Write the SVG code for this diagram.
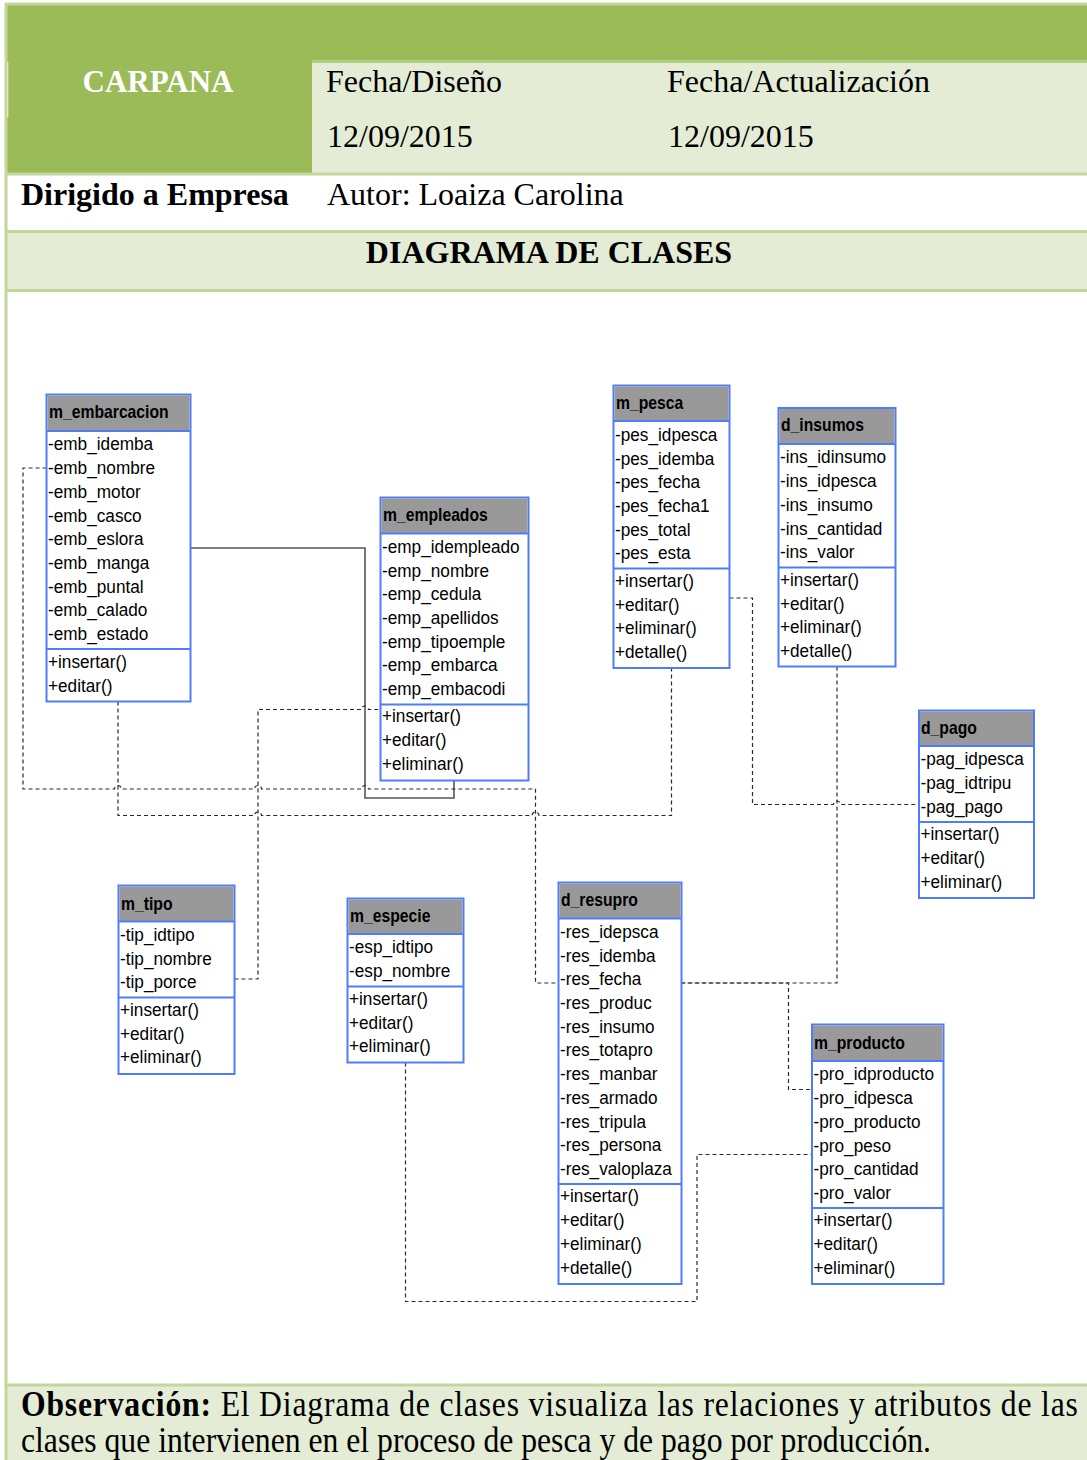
<svg xmlns="http://www.w3.org/2000/svg" width="1087" height="1460" viewBox="0 0 1087 1460">
  <style>
    .serif { font-family: "Liberation Serif", "Times New Roman", serif; fill: #000; }
    .hd { font-size: 32px; }
    .bold { font-weight: bold; }
    .box { fill: #fff; stroke: #4f7cff; stroke-width: 2; }
    .hdr { fill: #999999; }
    .div { stroke: #4f7cff; stroke-width: 2; }
    .cls { font-family: "Liberation Sans", Arial, sans-serif; font-size: 18.5px; fill: #000; }
    .ttl { font-family: "Liberation Sans", Arial, sans-serif; font-size: 18.5px; font-weight: bold; fill: #000; }
    .dash { fill: none; stroke: #2a2a2a; stroke-width: 1.2; stroke-dasharray: 4 3; }
    .solid { fill: none; stroke: #555; stroke-width: 1.6; }
  </style>

  <!-- page / table frame -->
  <rect x="0" y="0" width="1087" height="1460" fill="#fff"/>
  <rect x="7" y="5" width="1080" height="57" fill="#9bbb59"/>
  <rect x="7" y="5" width="305" height="168" fill="#9bbb59"/>
  <rect x="312" y="62" width="775" height="111" fill="#e4ecd5"/>
  <line x1="312" y1="61.5" x2="1087" y2="61.5" stroke="#b2cc80" stroke-width="3"/>
  <line x1="7.5" y1="62" x2="7.5" y2="117" stroke="#fff" stroke-width="1.5"/>
  <rect x="7" y="233" width="1080" height="57" fill="#e4ecd5"/>
  <rect x="7" y="1386" width="1080" height="74" fill="#e4ecd5"/>
  <g stroke="#c3d69b" stroke-width="3">
    <line x1="5" y1="4" x2="1087" y2="4"/>
    <line x1="6" y1="3" x2="6" y2="1460"/>
    <line x1="7" y1="174" x2="1087" y2="174"/>
    <line x1="7" y1="231.5" x2="1087" y2="231.5"/>
    <line x1="7" y1="290.5" x2="1087" y2="290.5"/>
    <line x1="7" y1="1385" x2="1087" y2="1385"/>
  </g>

  <!-- header texts -->
  <text class="serif bold" x="158" y="92" font-size="31" text-anchor="middle" fill="#fff" style="fill:#fff">CARPANA</text>
  <text class="serif hd" x="326" y="92">Fecha/Diseño</text>
  <text class="serif hd" x="667" y="92">Fecha/Actualización</text>
  <text class="serif hd" x="327" y="147">12/09/2015</text>
  <text class="serif hd" x="668" y="147">12/09/2015</text>
  <text class="serif hd bold" x="21" y="205">Dirigido a Empresa</text>
  <text class="serif hd" x="327" y="205">Autor: Loaiza Carolina</text>
  <text class="serif hd bold" x="549" y="263" text-anchor="middle">DIAGRAMA DE CLASES</text>

  <!-- observation -->
  <text class="serif" font-size="36" transform="translate(21 1416) scale(0.88 1)" textLength="1201" lengthAdjust="spacing"><tspan font-weight="bold">Observación:</tspan> El Diagrama de clases visualiza las relaciones y atributos de las</text>
  <text class="serif" font-size="36" transform="translate(21 1452) scale(0.88 1)">clases que intervienen en el proceso de pesca y de pago por producción.</text>

  <!-- connectors -->
  <g id="connectors">
    <polyline class="solid" points="190.5,548 365,548 365,798 454,798 454,781"/>
    <path class="dash" d="M46.5,468 H23 V789 H114.5 a3.5,3.5 0 0 1 7,0 H254.5 a3.5,3.5 0 0 1 7,0 H361.5 a3.5,3.5 0 0 1 7,0 H535.5 V983 H558.5"/>
    <path class="dash" d="M118,701.5 V815.5 H254.5 a3.5,3.5 0 0 1 7,0 H532 a3.5,3.5 0 0 1 7,0 H671.5 V668"/>
    <path class="dash" d="M234.5,979 H258 V709.5 H361.5 a3.5,3.5 0 0 1 7,0 H380.5"/>
    <path class="dash" d="M729.5,598 H752.5 V804.5 H833.5 a3.5,3.5 0 0 1 7,0 H919"/>
    <path class="dash" d="M837,666.5 V983 H681.5"/>
    <path class="dash" d="M681.5,983 H788.5 V1089.5 H812"/>
    <path class="dash" d="M405.5,1062.5 V1301.5 H697 V1154.5 H812"/>
  </g>

  <!-- m_embarcacion -->
  <g id="m_embarcacion">
    <rect class="box" x="46.5" y="394.5" width="144" height="307"/>
    <rect class="hdr" x="47.5" y="395.5" width="142" height="35.5"/>
    <line class="div" x1="46.5" y1="431" x2="190.5" y2="431"/>
    <line class="div" x1="46.5" y1="649" x2="190.5" y2="649"/>
    <text class="ttl" transform="translate(49 418) scale(0.85 1)">m_embarcacion</text>
    <g class="cls" transform="translate(48 0) scale(0.93 1)">
      <text y="450.5">-emb_idemba</text>
      <text y="474.2">-emb_nombre</text>
      <text y="497.9">-emb_motor</text>
      <text y="521.6">-emb_casco</text>
      <text y="545.3">-emb_eslora</text>
      <text y="569">-emb_manga</text>
      <text y="592.7">-emb_puntal</text>
      <text y="616.4">-emb_calado</text>
      <text y="640.1">-emb_estado</text>
      <text y="668">+insertar()</text>
      <text y="691.7">+editar()</text>
    </g>
  </g>

  <!-- m_empleados -->
  <g id="m_empleados">
    <rect class="box" x="380.5" y="497.5" width="148" height="283"/>
    <rect class="hdr" x="381.5" y="498.5" width="146" height="35"/>
    <line class="div" x1="380.5" y1="533.5" x2="528.5" y2="533.5"/>
    <line class="div" x1="380.5" y1="704.5" x2="528.5" y2="704.5"/>
    <text class="ttl" transform="translate(383 521) scale(0.85 1)">m_empleados</text>
    <g class="cls" transform="translate(382 0) scale(0.93 1)">
      <text y="553">-emp_idempleado</text>
      <text y="576.7">-emp_nombre</text>
      <text y="600.4">-emp_cedula</text>
      <text y="624.1">-emp_apellidos</text>
      <text y="647.8">-emp_tipoemple</text>
      <text y="671.5">-emp_embarca</text>
      <text y="695.2">-emp_embacodi</text>
      <text y="722.5">+insertar()</text>
      <text y="746.2">+editar()</text>
      <text y="769.9">+eliminar()</text>
    </g>
  </g>

  <!-- m_pesca -->
  <g id="m_pesca">
    <rect class="box" x="613.5" y="385.5" width="116" height="282.5"/>
    <rect class="hdr" x="614.5" y="386.5" width="114" height="34.5"/>
    <line class="div" x1="613.5" y1="421" x2="729.5" y2="421"/>
    <line class="div" x1="613.5" y1="568.5" x2="729.5" y2="568.5"/>
    <text class="ttl" transform="translate(616 409) scale(0.85 1)">m_pesca</text>
    <g class="cls" transform="translate(615 0) scale(0.93 1)">
      <text y="441">-pes_idpesca</text>
      <text y="464.7">-pes_idemba</text>
      <text y="488.4">-pes_fecha</text>
      <text y="512.1">-pes_fecha1</text>
      <text y="535.8">-pes_total</text>
      <text y="559.5">-pes_esta</text>
      <text y="587">+insertar()</text>
      <text y="610.7">+editar()</text>
      <text y="634.4">+eliminar()</text>
      <text y="658.1">+detalle()</text>
    </g>
  </g>

  <!-- d_insumos -->
  <g id="d_insumos">
    <rect class="box" x="778.5" y="408" width="117" height="258.5"/>
    <rect class="hdr" x="779.5" y="409" width="115" height="35"/>
    <line class="div" x1="778.5" y1="444" x2="895.5" y2="444"/>
    <line class="div" x1="778.5" y1="567.5" x2="895.5" y2="567.5"/>
    <text class="ttl" transform="translate(781 431) scale(0.85 1)">d_insumos</text>
    <g class="cls" transform="translate(780 0) scale(0.93 1)">
      <text y="463.5">-ins_idinsumo</text>
      <text y="487.2">-ins_idpesca</text>
      <text y="510.9">-ins_insumo</text>
      <text y="534.6">-ins_cantidad</text>
      <text y="558.3">-ins_valor</text>
      <text y="586">+insertar()</text>
      <text y="609.7">+editar()</text>
      <text y="633.4">+eliminar()</text>
      <text y="657.1">+detalle()</text>
    </g>
  </g>

  <!-- d_pago -->
  <g id="d_pago">
    <rect class="box" x="919" y="710.5" width="115" height="187.5"/>
    <rect class="hdr" x="920" y="711.5" width="113" height="34.5"/>
    <line class="div" x1="919" y1="746" x2="1034" y2="746"/>
    <line class="div" x1="919" y1="822" x2="1034" y2="822"/>
    <text class="ttl" transform="translate(921 734) scale(0.85 1)">d_pago</text>
    <g class="cls" transform="translate(920.5 0) scale(0.93 1)">
      <text y="765.5">-pag_idpesca</text>
      <text y="789.2">-pag_idtripu</text>
      <text y="812.9">-pag_pago</text>
      <text y="840.5">+insertar()</text>
      <text y="864.2">+editar()</text>
      <text y="887.9">+eliminar()</text>
    </g>
  </g>

  <!-- m_tipo -->
  <g id="m_tipo">
    <rect class="box" x="118.5" y="885.5" width="116" height="188.5"/>
    <rect class="hdr" x="119.5" y="886.5" width="114" height="35"/>
    <line class="div" x1="118.5" y1="921.5" x2="234.5" y2="921.5"/>
    <line class="div" x1="118.5" y1="997.5" x2="234.5" y2="997.5"/>
    <text class="ttl" transform="translate(121 910) scale(0.85 1)">m_tipo</text>
    <g class="cls" transform="translate(120 0) scale(0.93 1)">
      <text y="941">-tip_idtipo</text>
      <text y="964.7">-tip_nombre</text>
      <text y="988.4">-tip_porce</text>
      <text y="1016">+insertar()</text>
      <text y="1039.7">+editar()</text>
      <text y="1063.4">+eliminar()</text>
    </g>
  </g>

  <!-- m_especie -->
  <g id="m_especie">
    <rect class="box" x="347.5" y="898.5" width="116" height="164"/>
    <rect class="hdr" x="348.5" y="899.5" width="114" height="34.5"/>
    <line class="div" x1="347.5" y1="934" x2="463.5" y2="934"/>
    <line class="div" x1="347.5" y1="986.5" x2="463.5" y2="986.5"/>
    <text class="ttl" transform="translate(350 922) scale(0.85 1)">m_especie</text>
    <g class="cls" transform="translate(349 0) scale(0.93 1)">
      <text y="953.5">-esp_idtipo</text>
      <text y="977.2">-esp_nombre</text>
      <text y="1005">+insertar()</text>
      <text y="1028.7">+editar()</text>
      <text y="1052.4">+eliminar()</text>
    </g>
  </g>

  <!-- d_resupro -->
  <g id="d_resupro">
    <rect class="box" x="558.5" y="882.5" width="123" height="401.5"/>
    <rect class="hdr" x="559.5" y="883.5" width="121" height="35"/>
    <line class="div" x1="558.5" y1="918.5" x2="681.5" y2="918.5"/>
    <line class="div" x1="558.5" y1="1184" x2="681.5" y2="1184"/>
    <text class="ttl" transform="translate(561 906) scale(0.85 1)">d_resupro</text>
    <g class="cls" transform="translate(560 0) scale(0.93 1)">
      <text y="938">-res_idepsca</text>
      <text y="961.7">-res_idemba</text>
      <text y="985.4">-res_fecha</text>
      <text y="1009.1">-res_produc</text>
      <text y="1032.8">-res_insumo</text>
      <text y="1056.5">-res_totapro</text>
      <text y="1080.2">-res_manbar</text>
      <text y="1103.9">-res_armado</text>
      <text y="1127.6">-res_tripula</text>
      <text y="1151.3">-res_persona</text>
      <text y="1175">-res_valoplaza</text>
      <text y="1202.5">+insertar()</text>
      <text y="1226.2">+editar()</text>
      <text y="1249.9">+eliminar()</text>
      <text y="1273.6">+detalle()</text>
    </g>
  </g>

  <!-- m_producto -->
  <g id="m_producto">
    <rect class="box" x="812" y="1024.5" width="131.5" height="259.5"/>
    <rect class="hdr" x="813" y="1025.5" width="129.5" height="35.5"/>
    <line class="div" x1="812" y1="1061" x2="943.5" y2="1061"/>
    <line class="div" x1="812" y1="1208" x2="943.5" y2="1208"/>
    <text class="ttl" transform="translate(814 1049) scale(0.85 1)">m_producto</text>
    <g class="cls" transform="translate(813.5 0) scale(0.93 1)">
      <text y="1080.5">-pro_idproducto</text>
      <text y="1104.2">-pro_idpesca</text>
      <text y="1127.9">-pro_producto</text>
      <text y="1151.6">-pro_peso</text>
      <text y="1175.3">-pro_cantidad</text>
      <text y="1199">-pro_valor</text>
      <text y="1226.5">+insertar()</text>
      <text y="1250.2">+editar()</text>
      <text y="1273.9">+eliminar()</text>
    </g>
  </g>
</svg>
